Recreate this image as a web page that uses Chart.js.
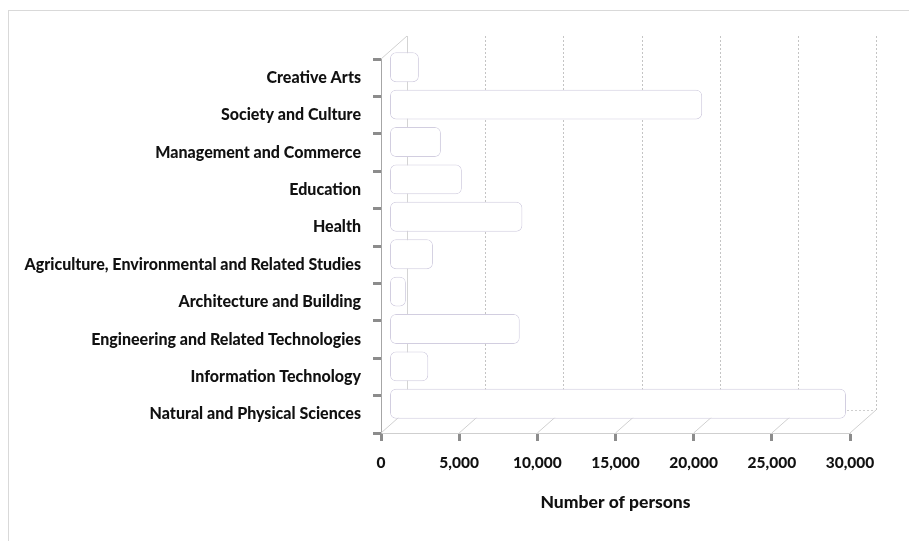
<!DOCTYPE html>
<html>
<head>
<meta charset="utf-8">
<script src="https://cdn.jsdelivr.net/npm/chart.js@4"></script>
<style>
  html, body { margin: 0; padding: 0; background: #fff; }
  #wrap { position: relative; width: 909px; height: 541px; overflow: hidden; }
  #frame { position: absolute; left: 8px; top: 10px; width: 1000px; height: 700px; border: 1px solid #d9d9d9; box-sizing: border-box; }
  canvas { position: absolute; left: 0; top: 0; }
</style>
</head>
<body>
<div id="wrap">
  <div id="frame"></div>
  <canvas id="c" width="909" height="541"></canvas>
</div>
<script>
const categories = [
  "Creative Arts",
  "Society and Culture",
  "Management and Commerce",
  "Education",
  "Health",
  "Agriculture, Environmental and Related Studies",
  "Architecture and Building",
  "Engineering and Related Technologies",
  "Information Technology",
  "Natural and Physical Sciences"
];
const persons = [1880, 20000, 3290, 4630, 8500, 2780, 1050, 8330, 2480, 29200];
const xTickValues = [0, 5000, 10000, 15000, 20000, 25000, 30000];
const xTitle = "Number of persons";

const DEPTH_X = 26, DEPTH_Y = -23;   // back wall offset
const BAR_X = 8.5, BAR_Y = -10.5;    // bar mid-depth offset
const FONT = "Lato, 'Open Sans', sans-serif";

const wallPlugin = {
  id: 'wall3d',
  beforeDatasetsDraw(chart) {
    const ctx = chart.ctx;
    const xs = chart.scales.x, ys = chart.scales.y;
    const top = ys.top, bottom = ys.bottom;
    const left = xs.getPixelForValue(xTickValues[0]);
    const right = xs.getPixelForValue(xTickValues[xTickValues.length - 1]);
    ctx.save();
    ctx.lineWidth = 1;
    xTickValues.forEach((v, i) => {
      const px = Math.round(xs.getPixelForValue(v) + DEPTH_X) + 0.5;
      ctx.strokeStyle = i === 0 ? '#d4d4d4' : '#c4c4c4';
      ctx.setLineDash(i === 0 ? [] : [2, 2]);
      ctx.beginPath();
      ctx.moveTo(px, top + DEPTH_Y);
      ctx.lineTo(px, bottom + DEPTH_Y);
      ctx.stroke();
    });
    ctx.strokeStyle = '#cfcfcf';
    ctx.setLineDash([2, 2]);
    ctx.beginPath();
    ctx.moveTo(left + DEPTH_X, Math.round(bottom + DEPTH_Y) + 0.5);
    ctx.lineTo(right + DEPTH_X, Math.round(bottom + DEPTH_Y) + 0.5);
    ctx.stroke();
    ctx.setLineDash([]);
    ctx.strokeStyle = '#d0d0d0';
    xTickValues.forEach(v => {
      const px = xs.getPixelForValue(v);
      ctx.beginPath();
      ctx.moveTo(px, bottom);
      ctx.lineTo(px + DEPTH_X, bottom + DEPTH_Y);
      ctx.stroke();
    });
    ctx.beginPath();
    ctx.moveTo(left, top);
    ctx.lineTo(left + DEPTH_X, top + DEPTH_Y);
    ctx.stroke();
    ctx.restore();
    ctx.save();
    ctx.translate(BAR_X, BAR_Y);
  },
  afterDatasetsDraw(chart) {
    chart.ctx.restore();
  }
};

new Chart(document.getElementById('c'), {
  type: 'bar',
  data: {
    labels: categories,
    datasets: [{
      data: persons,
      backgroundColor: '#ffffff',
      borderColor: '#d2cee0',
      borderWidth: 1,
      borderRadius: 6,
      borderSkipped: false,
      categoryPercentage: 1,
      barPercentage: 0.8,
      clip: false
    }]
  },
  options: {
    indexAxis: 'y',
    responsive: false,
    animation: false,
    devicePixelRatio: 1,
    layout: { padding: { left: 0, right: 59, top: 59, bottom: 0 } },
    plugins: { legend: { display: false }, tooltip: { enabled: false } },
    scales: {
      x: {
        type: 'linear',
        min: 0, max: 30000,
        afterFit(s) { s.height = 108; },
        afterBuildTicks(s) { s.ticks = xTickValues.map(v => ({ value: v })); },
        ticks: {
          color: '#111',
          font: { family: FONT, size: 15.5, weight: '900' },
          padding: 13,
          maxRotation: 0,
          callback: v => v.toLocaleString('en-US')
        },
        grid: { drawOnChartArea: false, drawTicks: true, tickLength: 8, tickWidth: 3, tickColor: '#8c8c8c' },
        border: { display: true, color: '#cfcfcf', width: 1, dash: [2, 2] },
        title: {
          display: true, text: xTitle, color: '#111',
          font: { family: FONT, size: 17.5, weight: '900' },
          padding: { top: 0, bottom: 28 }
        }
      },
      y: {
        type: 'category',
        afterFit(s) { s.width = 381; },
        ticks: {
          color: '#111',
          font: { family: FONT, size: 16, weight: '900' },
          padding: 12,
          crossAlign: 'near'
        },
        grid: { drawOnChartArea: false, drawTicks: true, tickLength: 8, tickWidth: 3, tickColor: '#8c8c8c', offset: true },
        border: { display: true, color: '#a6a6a6', width: 1 }
      }
    }
  },
  plugins: [wallPlugin]
});
</script>
</body>
</html>
